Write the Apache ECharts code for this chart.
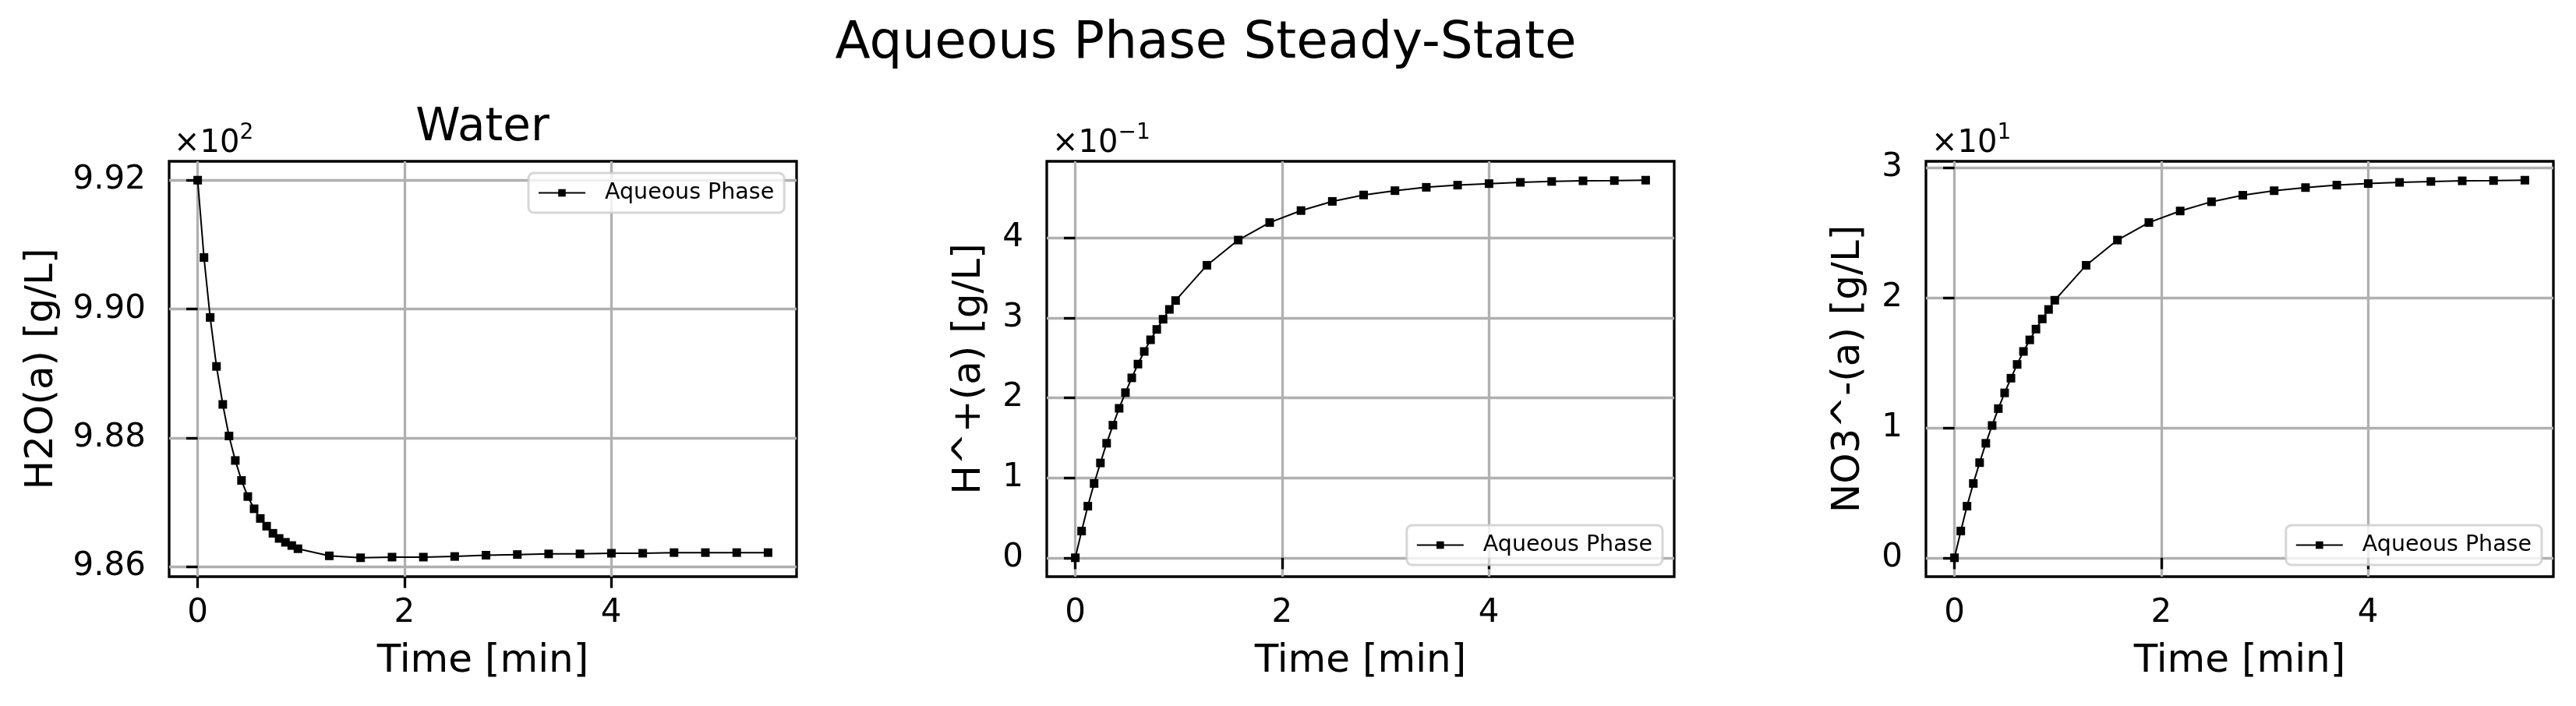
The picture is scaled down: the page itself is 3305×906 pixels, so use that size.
<!DOCTYPE html>
<html>
<head>
<meta charset="utf-8">
<script src="https://cdn.jsdelivr.net/npm/echarts@6/dist/echarts.min.js"></script>
<style>
  html, body { margin: 0; padding: 0; background: #fff; }
  #chart { width: 3305px; height: 906px; }
</style>
</head>
<body>
<div id="chart"></div>
<script>
// time [min]
const TIME = [0, 0.061, 0.121, 0.182, 0.243, 0.303, 0.364, 0.424, 0.485, 0.546, 0.606,
  0.667, 0.728, 0.788, 0.849, 0.910, 0.970, 1.273, 1.576, 1.880, 2.183, 2.486, 2.789,
  3.092, 3.395, 3.698, 4.002, 4.305, 4.608, 4.911, 5.214, 5.517]

// H2O(a) [g/L]
const H2O = [992.00, 990.80, 989.87, 989.11, 988.52, 988.03, 987.65, 987.34, 987.09,
  986.90, 986.75, 986.63, 986.52, 986.44, 986.38, 986.33, 986.28, 986.17, 986.14,
  986.15, 986.15, 986.16, 986.18, 986.19, 986.20, 986.20, 986.21, 986.21, 986.22,
  986.22, 986.22, 986.22]

// H^+(a) [g/L]
const HPLUS = [0, 0.0334, 0.0645, 0.0929, 0.1186, 0.1432, 0.1658, 0.1869, 0.2065,
  0.2250, 0.2422, 0.2580, 0.2726, 0.2856, 0.2983, 0.3106, 0.3217, 0.3658, 0.3973,
  0.4192, 0.4342, 0.4457, 0.4537, 0.4591, 0.4633, 0.4660, 0.4679, 0.4695, 0.4706,
  0.4714, 0.4717, 0.4722]

// NO3^-(a) [g/L]
const NO3 = [0, 2.06, 3.97, 5.72, 7.32, 8.81, 10.18, 11.48, 12.69, 13.82, 14.88,
  15.88, 16.77, 17.60, 18.38, 19.11, 19.82, 22.51, 24.45, 25.80, 26.69, 27.40,
  27.90, 28.25, 28.49, 28.68, 28.80, 28.89, 28.96, 29.01, 29.03, 29.06]

const X_TICKS = [0, 2, 4]
const H2O_TICKS = [986, 988, 990, 992]
const HPLUS_TICKS = [0, 0.1, 0.2, 0.3, 0.4]
const NO3_TICKS = [0, 10, 20, 30]

const FONT = 'DejaVu Sans'
const LEGEND_NAME = 'Aqueous Phase'

const chart = echarts.init(document.getElementById('chart'), null, { renderer: 'canvas' })

// matplotlib style 5% margins
const padMin = e => e.min - 0.05 * (e.max - e.min)
const padMax = e => e.max + 0.05 * (e.max - e.min)

const lefts = [217, 1343, 2471]
const grids = lefts.map(l => ({
  left: l, top: 207, width: 805, height: 533,
  show: true, borderColor: '#000', borderWidth: 3.3, backgroundColor: 'transparent',
  containLabel: false, outerBoundsMode: 'none'
}))

const tick = { show: true, inside: false, length: 14.6, lineStyle: { color: '#000', width: 3.3 } }
const grid = { show: true, lineStyle: { color: '#b0b0b0', width: 3.3 } }

const xAxes = lefts.map((l, i) => ({
  type: 'value', gridIndex: i,
  min: -0.276, max: 5.793,
  name: 'Time [min]', nameLocation: 'middle', nameGap: 84,
  nameTextStyle: { fontFamily: FONT, fontSize: 50, color: '#000' },
  axisLine: { show: false },
  axisTick: Object.assign({ customValues: X_TICKS }, tick),
  axisLabel: { customValues: X_TICKS, margin: 26, fontFamily: FONT, fontSize: 42, color: '#000',
    formatter: v => String(Math.round(v)) },
  splitLine: grid
}))

const yDefs = [
  { name: 'H2O(a) [g/L]', ticks: H2O_TICKS, gap: 138, fmt: v => (v / 100).toFixed(2) },
  { name: 'H^+(a) [g/L]', ticks: HPLUS_TICKS, gap: 74, fmt: v => String(Math.round(v * 10)) },
  { name: 'NO3^-(a) [g/L]', ticks: NO3_TICKS, gap: 74, fmt: v => String(Math.round(v / 10)) }
]
const yAxes = yDefs.map((d, i) => ({
  type: 'value', gridIndex: i, scale: true,
  min: padMin, max: padMax,
  name: d.name, nameLocation: 'middle', nameGap: d.gap,
  nameTextStyle: { fontFamily: FONT, fontSize: 50, color: '#000' },
  axisLine: { show: false },
  axisTick: Object.assign({ customValues: d.ticks }, tick),
  axisLabel: { customValues: d.ticks, margin: 30, fontFamily: FONT, fontSize: 42, color: '#000',
    formatter: d.fmt },
  splitLine: grid
}))

const series = [H2O, HPLUS, NO3].map((vals, i) => ({
  name: LEGEND_NAME, type: 'line', xAxisIndex: i, yAxisIndex: i,
  data: TIME.map((t, k) => [t, vals[k]]),
  symbol: 'rect', symbolSize: 11, showSymbol: true,
  lineStyle: { color: '#000', width: 2 },
  itemStyle: { color: '#000' },
  animation: false, z: 3
}))

const legendBase = {
  data: [LEGEND_NAME], orient: 'horizontal',
  itemWidth: 60, itemHeight: 12,
  padding: [10, 13, 10, 12],
  backgroundColor: 'rgba(255,255,255,0.8)',
  borderColor: 'rgba(204,204,204,0.8)', borderWidth: 3, borderRadius: 7,
  textStyle: { fontFamily: FONT, fontSize: 28.5, color: '#000', padding: [0, 0, 0, 20], lineHeight: 31 },
  selectedMode: false
}
const legends = [
  Object.assign({ left: 678, top: 222 }, legendBase),
  Object.assign({ right: 3305 - 2133, top: 674 }, legendBase),
  Object.assign({ right: 3305 - 3261, top: 674 }, legendBase)
]

const offsets = [['×10', '2', 223], ['×10', '−1', 1350], ['×10', '1', 2478]]

chart.setOption({
  backgroundColor: '#fff',
  animation: false,
  grid: grids,
  xAxis: xAxes,
  yAxis: yAxes,
  legend: legends,
  series: series,
  graphic: [
    { type: 'text', x: 1547, y: 57, style: { text: 'Aqueous Phase Steady-State', fontFamily: FONT,
      fontSize: 66, fill: '#000', align: 'center', verticalAlign: 'middle' } },
    { type: 'text', x: 619, y: 165, style: { text: 'Water', fontFamily: FONT,
      fontSize: 58, fill: '#000', align: 'center', verticalAlign: 'middle' } }
  ].concat(offsets.map(o => ({
    type: 'text', x: o[2], y: 181, style: {
      text: '{b|' + o[0] + '}{s|' + o[1] + '}', fontFamily: FONT, fill: '#000',
      align: 'left', verticalAlign: 'middle',
      rich: {
        b: { fontFamily: FONT, fontSize: 40, fill: '#000', lineHeight: 48, verticalAlign: 'bottom' },
        s: { fontFamily: FONT, fontSize: 28, fill: '#000', lineHeight: 48, verticalAlign: 'top' }
      }
    }
  })))
})
</script>
</body>
</html>
